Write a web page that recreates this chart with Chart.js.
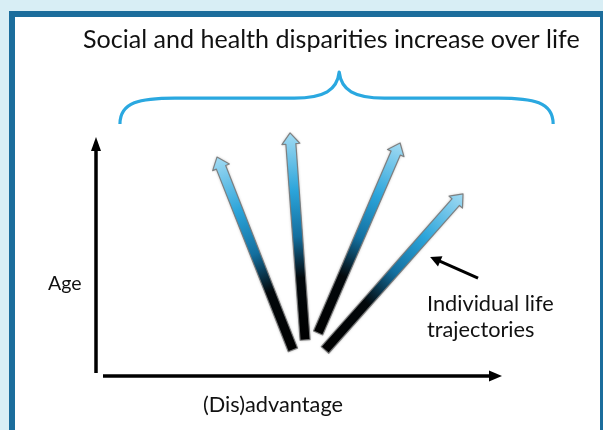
<!DOCTYPE html>
<html><head><meta charset="utf-8">
<script src="https://cdn.jsdelivr.net/npm/chart.js@4"></script>
<style>
html,body{margin:0;padding:0;width:603px;height:430px;overflow:hidden;background:#d8eef5;}
#frame{position:absolute;left:9px;top:11px;width:585px;height:440px;border:6px solid #1b6d9c;border-bottom:none;background:#fff;}
#wrap{position:absolute;left:0;top:0;width:603px;height:430px;}
</style></head><body>
<div id="frame"></div>
<div id="wrap"><canvas id="c" width="603" height="430"></canvas></div>
<script>
// ---- data (axis units: x = (dis)advantage 0..100, y = age 0..100) ----
const trajectoryNames = ["Trajectory 1", "Trajectory 2", "Trajectory 3", "Trajectory 4"];
const startX = [48.5, 51.5, 54.7, 56.4];
const startY = [10.9, 15.1, 18.0, 10.9];
const endX   = [29.8, 47.8, 74.9, 90.4];
const endY   = [91.6, 101.7, 97.5, 76.2];
const pointerFrom = [94.1, 41.0];
const pointerTo   = [82.3, 49.8];
const braceX = [5.9, 59.9, 112.6];   // left, apex, right
const braceY = [105.4, 116.3, 127.2]; // ends, band, apex
const titleText = "Social and health disparities increase over life";
const xAxisLabel = "(Dis)advantage";
const yAxisLabel = "Age";
const pointerLabel = ["Individual life", "trajectories"];

function arrowShape(ctx, x0, y0, x1, y1, sw, hw, hl) {
  const dx = x1 - x0, dy = y1 - y0, L = Math.hypot(dx, dy);
  const ux = dx / L, uy = dy / L, nx = -uy, ny = ux;
  const bx = x1 - ux * hl, by = y1 - uy * hl;
  ctx.beginPath();
  ctx.moveTo(x0 + nx * sw / 2, y0 + ny * sw / 2);
  ctx.lineTo(bx + nx * sw / 2, by + ny * sw / 2);
  ctx.lineTo(bx + nx * hw / 2, by + ny * hw / 2);
  ctx.lineTo(x1, y1);
  ctx.lineTo(bx - nx * hw / 2, by - ny * hw / 2);
  ctx.lineTo(bx - nx * sw / 2, by - ny * sw / 2);
  ctx.lineTo(x0 - nx * sw / 2, y0 - ny * sw / 2);
  ctx.closePath();
}

const diagramPlugin = {
  id: 'diagram',
  afterDraw(chart) {
    const ctx = chart.ctx, xs = chart.scales.x, ys = chart.scales.y, a = chart.chartArea;
    const X = v => xs.getPixelForValue(v), Y = v => ys.getPixelForValue(v);
    ctx.save();
    // axes
    ctx.fillStyle = '#000'; ctx.strokeStyle = '#000';
    ctx.lineWidth = 3.5; ctx.lineCap = 'butt';
    ctx.beginPath(); ctx.moveTo(a.left, a.bottom - 3); ctx.lineTo(a.left, a.top + 12); ctx.stroke();
    ctx.beginPath(); ctx.moveTo(a.left, a.top); ctx.lineTo(a.left - 5, a.top + 14); ctx.lineTo(a.left + 5, a.top + 14); ctx.closePath(); ctx.fill();
    ctx.beginPath(); ctx.moveTo(a.left + 7, a.bottom); ctx.lineTo(a.right - 11, a.bottom); ctx.stroke();
    ctx.beginPath(); ctx.moveTo(a.right, a.bottom); ctx.lineTo(a.right - 13, a.bottom - 5.5); ctx.lineTo(a.right - 13, a.bottom + 5.5); ctx.closePath(); ctx.fill();

    // brace
    const bl = X(braceX[0]), bm = X(braceX[1]), br = X(braceX[2]);
    const ye = Y(braceY[0]), yb = Y(braceY[1]), ya = Y(braceY[2]);
    ctx.strokeStyle = '#2aa8e0'; ctx.lineWidth = 3.2; ctx.lineJoin = 'round';
    ctx.beginPath();
    ctx.moveTo(bl, ye);
    ctx.bezierCurveTo(bl, yb + 4, bl + 20, yb, bl + 55, yb);
    ctx.lineTo(bm - 45, yb);
    ctx.bezierCurveTo(bm - 15, yb, bm - 2, yb - 8, bm, ya);
    ctx.bezierCurveTo(bm + 2, yb - 8, bm + 15, yb, bm + 45, yb);
    ctx.lineTo(br - 55, yb);
    ctx.bezierCurveTo(br - 20, yb, br, yb + 4, br, ye);
    ctx.stroke();

    // trajectory arrows
    for (let i = 0; i < startX.length; i++) {
      const x0 = X(startX[i]), y0 = Y(startY[i]), x1 = X(endX[i]), y1 = Y(endY[i]);
      const g = ctx.createLinearGradient(x0, y0, x1, y1);
      g.addColorStop(0, '#000000');
      g.addColorStop(0.3, '#03080b');
      g.addColorStop(0.5, '#136f9f');
      g.addColorStop(0.72, '#2ba4da');
      g.addColorStop(1, '#a2dbf3');
      ctx.save();
      ctx.shadowColor = 'rgba(0,0,0,0.35)'; ctx.shadowBlur = 3;
      arrowShape(ctx, x0, y0, x1, y1, 10, 18, 11);
      ctx.fillStyle = g; ctx.fill();
      ctx.restore();
      arrowShape(ctx, x0, y0, x1, y1, 10, 18, 11);
      ctx.strokeStyle = 'rgba(120,120,120,0.9)'; ctx.lineWidth = 1.2; ctx.stroke();
    }

    // pointer arrow
    {
      const x0 = X(pointerFrom[0]), y0 = Y(pointerFrom[1]), x1 = X(pointerTo[0]), y1 = Y(pointerTo[1]);
      const L = Math.hypot(x1 - x0, y1 - y0), ux = (x1 - x0) / L, uy = (y1 - y0) / L;
      ctx.strokeStyle = '#000'; ctx.fillStyle = '#000'; ctx.lineWidth = 3;
      ctx.beginPath(); ctx.moveTo(x0, y0); ctx.lineTo(x1 - ux * 8, y1 - uy * 8); ctx.stroke();
      ctx.beginPath(); ctx.moveTo(x1, y1);
      ctx.lineTo(x1 - ux * 11 - uy * 5.5, y1 - uy * 11 + ux * 5.5);
      ctx.lineTo(x1 - ux * 11 + uy * 5.5, y1 - uy * 11 - ux * 5.5);
      ctx.closePath(); ctx.fill();
    }

    // texts
    ctx.fillStyle = '#111'; ctx.textBaseline = 'alphabetic'; ctx.textAlign = 'left';
    const fit = (txt, w) => { ctx.font = '100px Lato'; return 100 * w / ctx.measureText(txt).width; };
    const ts = fit(titleText, 497);
    ctx.font = ts.toFixed(2) + 'px Lato';
    ctx.fillText(titleText, 83, 48);
    const ls = fit(xAxisLabel, 140);
    ctx.font = ls.toFixed(2) + 'px Lato';
    ctx.fillText(xAxisLabel, 203, 412);
    ctx.fillText(pointerLabel[0], 427, 311);
    ctx.fillText(pointerLabel[1], 427, 337);
    ctx.font = (ls * 0.9).toFixed(2) + 'px Lato';
    ctx.fillText(yAxisLabel, 48, 290);
    ctx.restore();
  }
};

const datasets = trajectoryNames.map((n, i) => ({
  label: n,
  data: [{x: startX[i], y: startY[i]}, {x: endX[i], y: endY[i]}],
  showLine: false, pointRadius: 0, borderColor: 'rgba(0,0,0,0)', backgroundColor: 'rgba(0,0,0,0)'
}));

new Chart(document.getElementById('c'), {
  type: 'scatter',
  data: { datasets },
  options: {
    responsive: false, animation: false, events: [],
    layout: { padding: { left: 96, right: 101, top: 137, bottom: 54 } },
    scales: {
      x: { type: 'linear', min: 0, max: 100, display: false },
      y: { type: 'linear', min: 0, max: 100, display: false }
    },
    plugins: { legend: { display: false }, tooltip: { enabled: false }, title: { display: false } }
  },
  plugins: [diagramPlugin]
});
</script>
</body></html>
